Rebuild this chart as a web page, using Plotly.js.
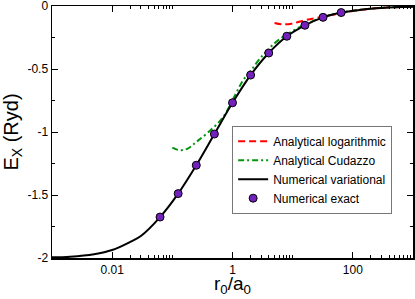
<!DOCTYPE html>
<html>
<head>
<meta charset="utf-8">
<script src="https://cdn.plot.ly/plotly-3.0.1.min.js"></script>
<style>
html,body{margin:0;padding:0;background:#fff;}
#chart{width:415px;height:299px;}
</style>
</head>
<body>
<div id="chart"></div>
<script>
// Numerical variational (black line)
var varX = [0.001,0.002,0.005,0.01,0.02,0.03,0.0625,0.125,0.25,0.5,1,2,4,8,16,32,64,100,200,500,1000];
var varY = [-1.995,-1.99,-1.97,-1.937,-1.872,-1.825,-1.675,-1.489,-1.264,-1.016,-0.768,-0.548,-0.373,-0.240,-0.153,-0.090,-0.052,-0.038,-0.021,-0.009,-0.005];

// Numerical exact (purple points)
var exX = [0.0625,0.125,0.25,0.5,1,2,4,8,16,32,64];
var exY = [-1.675,-1.489,-1.264,-1.016,-0.768,-0.548,-0.373,-0.240,-0.153,-0.090,-0.052];

// Analytical Cudazzo (green dash-dot)
var cudX = [0.1,0.12,0.14,0.18,0.25,0.4,0.7,1,1.5,2,3,5,8,16,32,64,100,200,500,1000];
var cudY = [-1.124,-1.14,-1.145,-1.132,-1.079,-1.0,-0.881,-0.748,-0.59,-0.515,-0.405,-0.296,-0.226,-0.148,-0.088,-0.051,-0.037,-0.021,-0.009,-0.005];

// Analytical logarithmic (red dashed)
var logX = [5,6.5,9.6,16,30,65,100,200,500,1000];
var logY = [-0.135,-0.145,-0.14,-0.113,-0.087,-0.056,-0.039,-0.021,-0.009,-0.005];

// Tick labels
var xTickVals = [0.01,1,100];
var xTickText = ['0.01','1','100'];
var xMinorVals = [0.02,0.03,0.04,0.05,0.06,0.07,0.08,0.09,0.1,2,3,4,5,6,7,8,9,10,200,300,400,500,600,700,800,900];
var yTickVals = [0,-0.5,-1,-1.5,-2];
var yTickText = ['0','-0.5','-1','-1.5','-2'];
var xTitle = 'r<sub>0</sub>/a<sub>0</sub>';
var yTitle = 'E<sub>X</sub> (Ryd)';

var FONT = 'Liberation Sans, Arial, Helvetica, sans-serif';

var traces = [
  {x: logX, y: logY, type: 'scatter', mode: 'lines', name: 'Analytical logarithmic',
   line: {color: '#ff0000', width: 2, dash: '7px,4px', shape: 'spline', smoothing: 1}},
  {x: cudX, y: cudY, type: 'scatter', mode: 'lines', name: 'Analytical Cudazzo',
   line: {color: '#00960a', width: 2, dash: '6px,3px,2px,3px', shape: 'spline', smoothing: 1}},
  {x: varX, y: varY, type: 'scatter', mode: 'lines', name: 'Numerical variational',
   line: {color: '#000000', width: 2, shape: 'spline', smoothing: 1}},
  {x: exX, y: exY, type: 'scatter', mode: 'markers', name: 'Numerical exact',
   marker: {color: '#7221bc', size: 8, line: {color: '#000000', width: 1}}}
];

var layout = {
  width: 415, height: 299,
  margin: {l: 52, r: 2, t: 6, b: 41, pad: 0},
  paper_bgcolor: '#ffffff', plot_bgcolor: '#ffffff',
  font: {family: FONT, size: 12, color: '#000'},
  showlegend: true,
  legend: {
    x: 0.499, y: 0.525, xanchor: 'left', yanchor: 'top',
    bgcolor: '#ffffff', bordercolor: '#777777', borderwidth: 1,
    font: {family: FONT, size: 12, color: '#000'}
  },
  annotations: [{
    text: xTitle, xref: 'paper', yref: 'paper', x: 0.5, y: -0.163,
    xanchor: 'center', yanchor: 'bottom', showarrow: false,
    font: {family: FONT, size: 19, color: '#000'}
  }],
  xaxis: {
    type: 'log', range: [-3, 3],
    tickmode: 'array', tickvals: xTickVals, ticktext: xTickText,
    ticks: 'inside', ticklen: 6, tickwidth: 1, tickcolor: '#000',
    minor: {tickmode: 'array', tickvals: xMinorVals, ticks: 'inside', ticklen: 3, tickwidth: 1, tickcolor: '#000', showgrid: false},
    showline: true, linecolor: '#000', linewidth: 1.5, mirror: 'allticks',
    showgrid: false, zeroline: false, ticklabeloverflow: 'allow',
    tickfont: {family: FONT, size: 12, color: '#000'}
  },
  yaxis: {
    range: [-2, 0],
    tickmode: 'array', tickvals: yTickVals, ticktext: yTickText,
    ticks: 'inside', ticklen: 6, tickwidth: 1, tickcolor: '#000',
    minor: {dtick: 0.25, tick0: 0, ticks: 'inside', ticklen: 3, tickwidth: 1, tickcolor: '#000', showgrid: false},
    showline: true, linecolor: '#000', linewidth: 1.5, mirror: 'allticks',
    showgrid: false, zeroline: false, ticklabeloverflow: 'allow',
    tickfont: {family: FONT, size: 12, color: '#000'},
    title: {text: yTitle, font: {family: FONT, size: 20, color: '#000'}}
  }
};

Plotly.newPlot('chart', traces, layout, {staticPlot: true, displayModeBar: false});
</script>
</body>
</html>
